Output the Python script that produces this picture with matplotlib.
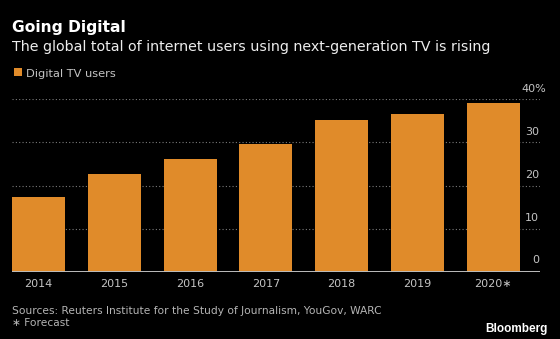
import numpy as np
import matplotlib
matplotlib.use("Agg")
import matplotlib.pyplot as plt
from matplotlib.patches import Rectangle
import matplotlib.transforms as mtransforms

years = ["2014", "2015", "2016", "2017", "2018", "2019", "2020\u2217"]
users = [17.4, 22.6, 26.2, 29.7, 35.2, 36.6, 39.1]
yticks = [0, 10, 20, 30, 40]

W, H = 560, 339
BG = "#000000"
ORANGE = "#E08B2A"
GREY = "#C4C4C4"

plt.rcParams["font.family"] = ["DejaVu Sans"]

fig = plt.figure(figsize=(W / 100, H / 100), dpi=100, facecolor=BG)

def fx(px):
    return px / W

def fy(py):
    return 1 - py / H

# axes box in pixel coords: x 12..540, y 99.3..272
ax = fig.add_axes([fx(12), fy(272), fx(540 - 12), (272 - 99.3) / H])
ax.set_facecolor(BG)

x = np.arange(len(years))
ax.bar(x, users, width=0.7, color=ORANGE, zorder=3)
ax.set_xlim(-0.35, 6.62)
ax.set_ylim(0, 40)

for v in yticks[1:]:
    ax.axhline(v, color="#7a7a7a", lw=0.8, ls=(0, (1, 2)), zorder=1)
ax.axhline(0, color="#BDBDBD", lw=1.4, zorder=4)

for s in ax.spines.values():
    s.set_visible(False)
ax.set_yticks([])
ax.set_xticks(x)
ax.set_xticklabels(years, color=GREY, fontsize=8)
ax.tick_params(axis="x", length=0, pad=5)

# y labels sit above the gridlines, at the right edge
trans = mtransforms.blended_transform_factory(ax.transAxes, ax.transData)
for v in yticks:
    off = mtransforms.offset_copy(trans, fig=fig, x=5.5 if v == 40 else 0,
                                  y=5.6 if v else 6.5, units="points")
    ax.text(0.998, v, f"{v}%" if v == 40 else str(v), transform=off, ha="right",
            va="baseline", color=GREY, fontsize=8, clip_on=False)

# titles
fig.text(fx(12), fy(32.3), "Going Digital", color="white", fontsize=11.2,
         fontweight="bold", va="baseline", ha="left")
fig.text(fx(12), fy(50.7), "The global total of internet users using next-generation TV is rising",
         color="#EDEDED", fontsize=10.3, va="baseline", ha="left")

# legend
fig.patches.append(Rectangle((fx(14), fy(76)), fx(8), 8 / H, transform=fig.transFigure,
                             facecolor=ORANGE, edgecolor="none"))
fig.text(fx(26.5), fy(76.7), "Digital TV users", color=GREY, fontsize=8.2,
         va="baseline", ha="left")

# footer
fig.text(fx(12), fy(314), "Sources: Reuters Institute for the Study of Journalism, YouGov, WARC",
         color="#B5B5B5", fontsize=7.7, va="baseline", ha="left")
fig.text(fx(12), fy(326), "\u2217 Forecast", color="#B5B5B5", fontsize=7.7,
         va="baseline", ha="left")
fig.text(fx(547.5), fy(331.7), "Bloomberg", color="white", fontsize=8.5,
         fontweight="bold", family="Liberation Sans", va="baseline", ha="right")

fig.savefig("out.png", dpi=100, facecolor=BG)
